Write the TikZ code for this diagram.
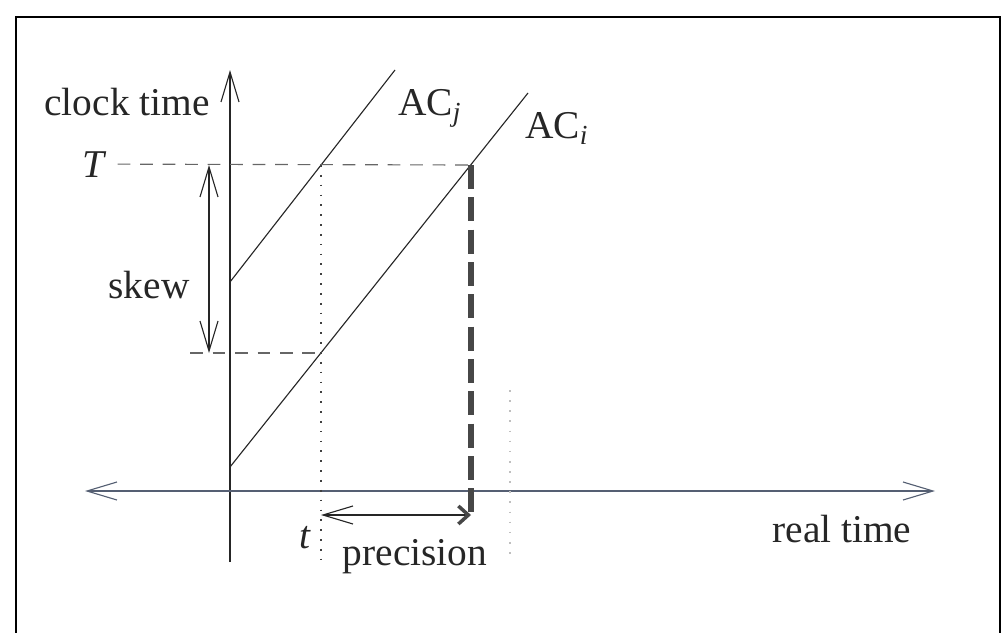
\documentclass[tikz,border=0pt]{standalone}
\usepackage{fontspec}
\setmainfont{Liberation Serif}
\usetikzlibrary{arrows.meta}
\definecolor{axisgray}{RGB}{85,95,115}

\begin{document}
\begin{tikzpicture}[x=0.025cm, y=-0.025cm,
  every node/.style={font=\fontsize{28}{32}\selectfont, text=black!85, inner sep=0pt},
  >={Straight Barb[length=0.75cm, width=0.45cm, line width=0.8pt]},
  plain line/.style={line width=0.8pt, black!85},
  guide/.style={line width=0.8pt, black!60, dash pattern=on 9pt off 7pt},
  drop/.style={line width=0.8pt, black!75, dash pattern=on 1.2pt off 5.8pt},
  precise/.style={line width=3.8pt, black!72, dash pattern=on 17pt off 6pt}]
\useasboundingbox (0,0) rectangle (1006,632);
% Frame
\draw[line width=1.8pt] (16,650) -- (16,17) -- (1000,17) -- (1000,650);

% Axes
\coordinate (ybot) at (230,562);
\coordinate (ytop) at (230,70);
\coordinate (xl) at (85,491);
\coordinate (xr) at (935,491);
\draw[plain line, ->] (ybot) -- (ytop);
\draw[line width=0.8pt, axisgray, <->] (xl) -- (xr);

% The two clocks
\coordinate (j0) at (230,282);
\coordinate (j1) at (395,70);
\coordinate (i0) at (230,467);
\coordinate (i1) at (528,93);
\draw[plain line] (j0) -- (j1);
\draw[plain line] (i0) -- (i1);

% Labels
\node[anchor=base] (clock) at (127,115) {clock time};
\node[anchor=base west] (acj) at (398,115) {AC\textsubscript{\itshape j}};
\node[anchor=base west] (aci) at (525,138) {AC\textsubscript{\itshape i}};
\node[anchor=base] (Tlab) at (93,177) {\itshape T};
\node[anchor=base] (skew) at (149,298) {skew};
\node[anchor=base] (tlab) at (305,548) {\itshape t};
\node[anchor=base] (prec) at (415,565) {precision};
\node[anchor=base] (real) at (842,542) {real time};

% Clock time T and the skew
\coordinate (jT) at (321,165);
\coordinate (iT) at (471,165);
\coordinate (it) at (321,353);
\coordinate (lo) at (190,353);
\draw[guide, shorten <=12\pgflinewidth] (Tlab.east) -- (iT);
\draw[guide] (lo) -- (it);
\coordinate (skT) at (209,165);
\coordinate (skB) at (209,353);
\draw[plain line, <->] (skT) -- (skB);

% Real time t and the precision
\coordinate (tb) at (321,565);
\coordinate (pl) at (321,515);
\coordinate (pr) at (471,515);
\draw[drop] (jT) -- (tb);
\draw[precise] (iT) -- (pr);
\draw[plain line, arrows={Straight Barb[length=0.75cm, width=0.45cm, line width=0.8pt]-Straight Barb[length=0.25cm, width=0.45cm, line width=2.5pt, black!72]}] (pl) -- (pr);
\draw[black!25, line width=0.8pt, dash pattern=on 1.2pt off 6pt] (510,390) -- (510,560);
\end{tikzpicture}
\end{document}
